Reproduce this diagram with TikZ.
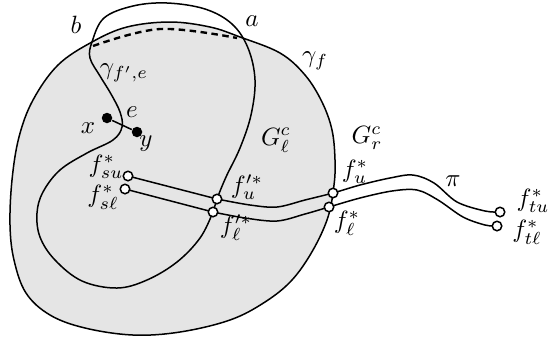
\documentclass[tikz,border=0pt]{standalone}
\usetikzlibrary{calc}
\begin{document}
\begin{tikzpicture}[x=0.4pt,y=-0.4pt,
  curve/.style={line width=0.6pt},
  dashline/.style={line width=0.95pt, dash pattern=on 2.6pt off 1.8pt},
  opendot/.style={circle,draw,line width=0.6pt,fill=white,inner sep=0pt,minimum size=3.8pt},
  fulldot/.style={circle,fill=black,inner sep=0pt,minimum size=4.2pt},
  lab/.style={inner sep=0pt}]
\useasboundingbox (0,0) rectangle (550,341);
% region gamma_f
\draw[curve,fill=black!10] plot[smooth cycle,tension=0.6] coordinates {
 (92,42) (127,27) (170,22) (210,27) (240,37) (280,53) (305,75) (322,102)
 (332,130) (335,160) (334,185) (328,217) (313,250) (292,280) (265,302)
 (230,320) (180,332) (133,335) (85,328) (50,315) (26,293) (14,260)
 (10,225) (12,180) (19,137) (33,100) (58,65)};
% dashed chord b-a
\draw[dashline] plot[smooth,tension=0.6] coordinates {(93,46) (160,29) (237,38)};
% loop gamma_{f',e}
\draw[curve] plot[smooth cycle,tension=0.6] coordinates {
 (92,42) (104,18) (133,6) (167,3) (205,9) (232,24) (248,48) (255,80)
 (251,115) (240,148) (226,177) (217,199) (213,212) (200,238) (177,262)
 (147,280) (117,288) (82,281) (55,260) (40,237) (37,213) (43,192)
 (60,170) (87,153) (113,140) (122,127) (120,112) (111,94) (100,76) (90,58)};
% named points
\coordinate (su) at (128,176);
\coordinate (sl) at (125,189);
\coordinate (up) at (217,199);
\coordinate (lp) at (213,212);
\coordinate (u) at (333,193);
\coordinate (l) at (329,207);
\coordinate (tu) at (500,212);
\coordinate (tl) at (497,226);
% path pi (two strands)
\draw[curve] (su) -- (up);
\draw[curve] (sl) -- (lp);
\draw[curve] plot[smooth,tension=0.55] coordinates {(up) (250,205) (277,207) (305,200) (u)
  (360,185) (390,178) (413,175) (434,183) (457,202) (485,211) (tu)};
\draw[curve] plot[smooth,tension=0.55] coordinates {(lp) (245,218) (277,221) (305,214) (l)
  (360,198) (392,191) (417,190) (438,200) (463,217) (485,225) (tl)};
% circles
\node[opendot] (nsu) at (su) {};
\node[opendot] (nsl) at (sl) {};
\node[opendot] (nup) at (up) {};
\node[opendot] (nlp) at (lp) {};
\node[opendot] (nu) at (u) {};
\node[opendot] (nl) at (l) {};
\node[opendot] (ntu) at (tu) {};
\node[opendot] (ntl) at (tl) {};
% edge e
\node[fulldot] (x) at (107,118) {};
\node[fulldot] (y) at (137,132) {};
\draw[curve] (x) -- (y);
% labels
\node[lab] (lb) at (76,25) {$b$};
\node[lab] (la) at (252,21) {$a$};
\node[lab] (lgfe) at (124,73) {$\gamma_{f',e}$};
\node[lab] (lgf) at (315,61) {$\gamma_f$};
\node[lab] (lGl) at (276,140) {$G^c_\ell$};
\node[lab] (lGr) at (367,138) {$G^c_r$};
\node[lab] (lx) at (88,128) {$x$};
\node[lab] (ly) at (146,144) {$y$};
\node[lab] (le) at (132,112) {$e$};
\node[lab] (lsu) at (106,167) {$f^*_{su}$};
\node[lab] (lsl) at (103,197) {$f^*_{s\ell}$};
\node[lab] (lup) at (247,187) {$f'^*_u$};
\node[lab] (llp) at (236,228) {$f'^*_\ell$};
\node[lab] (lu) at (355,172) {$f^*_u$};
\node[lab] (ll) at (347,223) {$f^*_\ell$};
\node[lab] (lpi) at (453,181) {$\pi$};
\node[lab] (ltu) at (533,201) {$f^*_{tu}$};
\node[lab] (ltl) at (527,232) {$f^*_{t\ell}$};
\end{tikzpicture}
\end{document}
